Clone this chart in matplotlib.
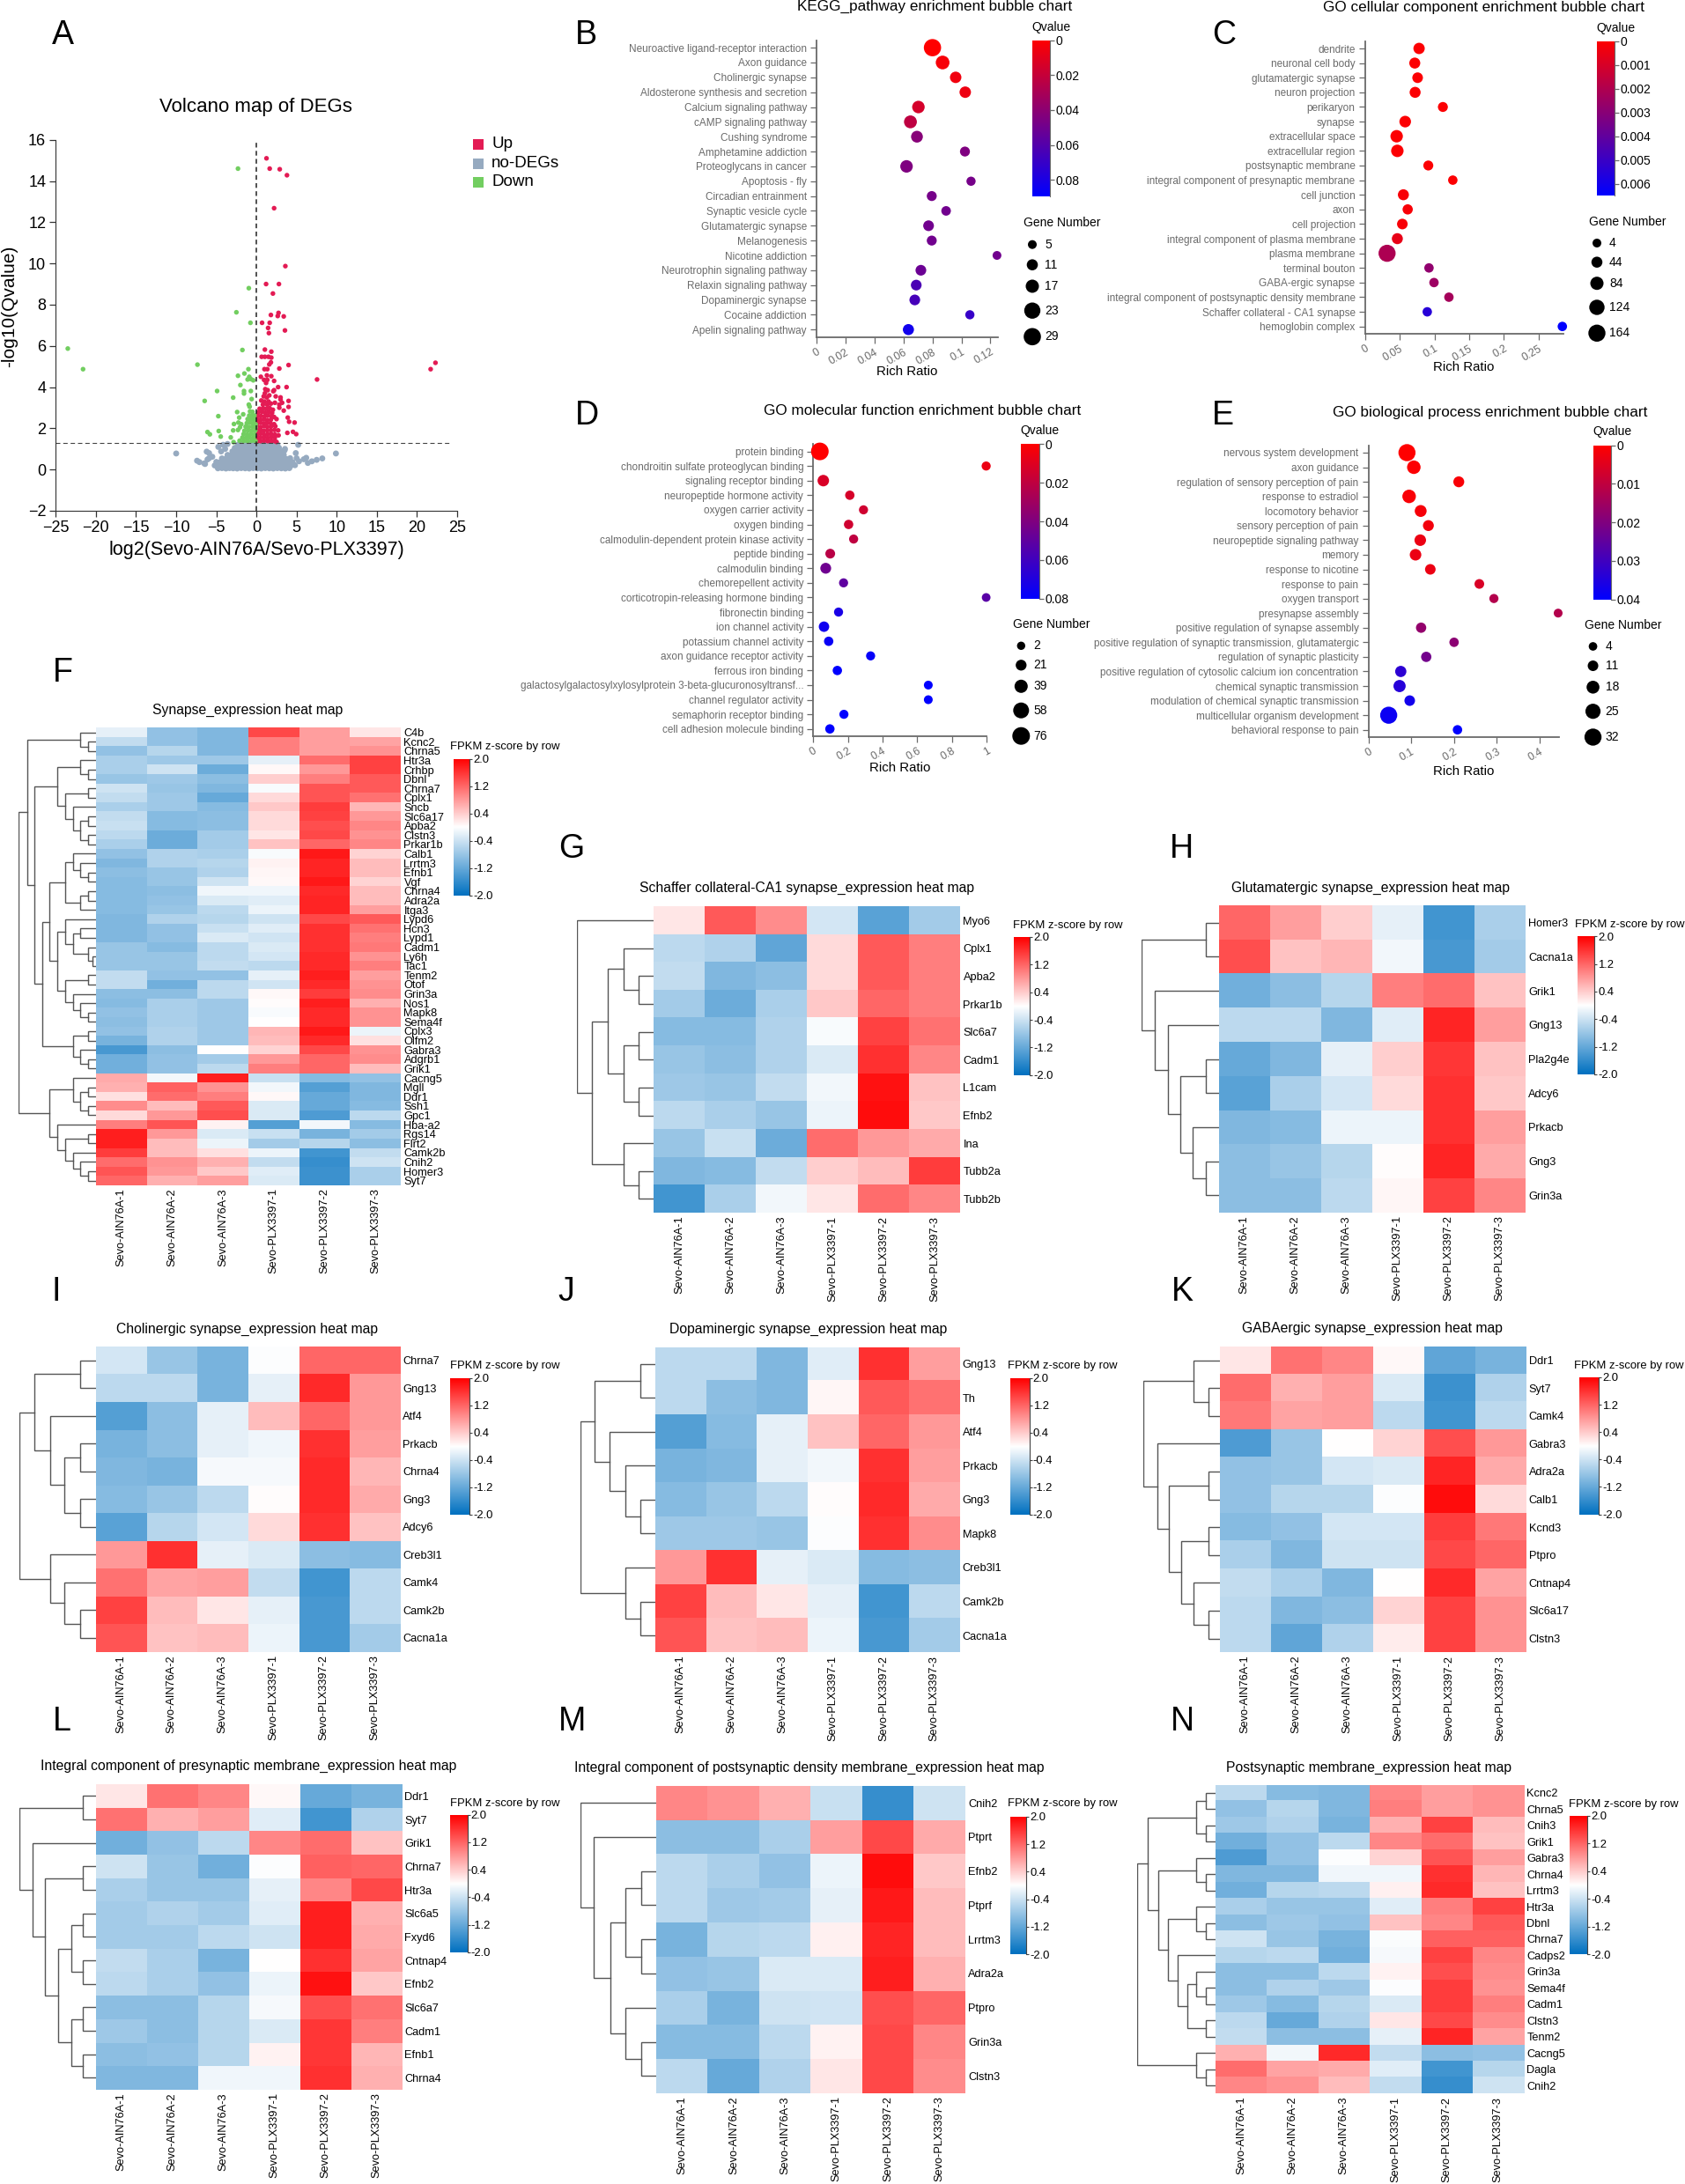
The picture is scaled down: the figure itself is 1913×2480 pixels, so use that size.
import numpy as np
import matplotlib
matplotlib.use('Agg')
import matplotlib.pyplot as plt
from matplotlib.colors import LinearSegmentedColormap, Normalize
from matplotlib.patches import Rectangle

plt.rcParams['font.family'] = ['Liberation Sans', 'DejaVu Sans']

W, H = 1913, 2480
GRAY = '#6a6a6a'
samples = ['Sevo-AIN76A-1', 'Sevo-AIN76A-2', 'Sevo-AIN76A-3',
           'Sevo-PLX3397-1', 'Sevo-PLX3397-2', 'Sevo-PLX3397-3']

# ---- A: volcano
up_pts = [(1.25, 15.1), (1.65, 14.6), (2.9, 14.57), (3.8, 14.28), (2.2, 12.68), (3.6, 9.87), (1.2, 9.0), (2.8, 9.0),
          (2.05, 8.54), (2.75, 7.6), (2.65, 7.45), (3.4, 7.43), (1.8, 7.5), (0.7, 7.12), (1.65, 7.12), (1.45, 6.87),
          (1.55, 6.62), (3.55, 6.75), (1.05, 5.82), (1.85, 5.72), (0.65, 5.47), (1.05, 5.47), (1.5, 5.47), (1.85, 5.43),
          (1.8, 5.2), (1.6, 5.1), (4.0, 5.07), (2.85, 4.9), (1.0, 4.87), (1.35, 4.87), (7.55, 4.37), (21.7, 4.87),
          (22.3, 5.18), (0.55, 4.5), (1.3, 4.57), (1.85, 4.53), (0.95, 4.35), (1.35, 4.35), (2.2, 4.3), (1.2, 4.2),
          (3.75, 4.0), (2.7, 4.0), (2.2, 3.85), (1.1, 3.9), (1.4, 3.85), (2.1, 3.8), (1.05, 3.7), (1.6, 3.6), (0.9, 3.55),
          (1.3, 3.5), (2.4, 3.55), (4.0, 3.33), (4.0, 3.04), (3.0, 3.5), (3.0, 3.4), (3.2, 3.24), (2.3, 3.24), (0.6, 3.35),
          (1.0, 3.3), (1.5, 3.3), (0.8, 3.15), (1.35, 3.15), (1.8, 3.2), (2.85, 3.15), (3.4, 2.86), (2.05, 2.9), (2.85, 3.0),
          (3.9, 2.52), (4.07, 2.32), (4.75, 2.28), (3.85, 1.78), (4.55, 1.83), (4.95, 1.72),
          (0.4, 2.95), (0.85, 2.97), (1.25, 2.95), (1.65, 2.98), (0.25, 2.78), (0.7, 2.8), (1.1, 2.76), (1.55, 2.8), (1.95, 2.75),
          (0.15, 2.6), (0.55, 2.6), (1.0, 2.58), (1.4, 2.62), (1.85, 2.6), (2.2, 2.55), (0.1, 2.42), (0.5, 2.42), (0.95, 2.44),
          (1.35, 2.4), (1.8, 2.42), (2.5, 2.45), (0.1, 2.25), (0.5, 2.27), (0.9, 2.24), (1.3, 2.26), (1.75, 2.25), (2.2, 2.2),
          (0.1, 2.08), (0.5, 2.06), (0.95, 2.1), (1.35, 2.07), (1.8, 2.08), (2.35, 2.1), (0.1, 1.9), (0.5, 1.92), (0.9, 1.88),
          (1.35, 1.9), (1.8, 1.9), (2.25, 1.92), (2.7, 1.9), (0.1, 1.72), (0.5, 1.74), (0.95, 1.7), (1.4, 1.72), (1.85, 1.72),
          (2.3, 1.7), (2.75, 1.66), (0.1, 1.55), (0.5, 1.55), (0.95, 1.56), (1.4, 1.54), (1.85, 1.56), (2.3, 1.55),
          (0.1, 1.38), (0.5, 1.38), (0.95, 1.4), (1.4, 1.38), (1.85, 1.38), (2.3, 1.38), (2.5, 1.34)]
down_pts = [(-2.3, 14.6), (-0.95, 8.8), (-2.5, 7.63), (-0.75, 7.12), (-1.75, 5.8), (-23.5, 5.87), (-21.6, 4.87), (-7.35, 5.09),
            (-1.0, 4.87), (-1.5, 4.66), (-2.3, 4.55), (-0.9, 4.5), (-1.1, 4.37), (-0.7, 4.39), (-0.4, 4.33), (-2.0, 4.1),
            (-1.55, 3.81), (-0.7, 3.81), (-1.55, 3.69), (-4.9, 3.81), (-2.9, 3.49), (-6.45, 3.33), (-0.6, 3.42), (-0.95, 3.15),
            (-0.85, 3.05), (-2.4, 2.79), (-1.65, 2.68), (-4.75, 2.59), (-2.15, 2.52), (-2.8, 2.21), (-2.25, 2.28), (-1.9, 2.2),
            (-2.05, 2.05), (-4.7, 1.87), (-2.9, 1.9), (-2.3, 1.92), (-6.1, 1.82), (-5.8, 1.71), (-4.45, 1.6), (-3.2, 1.56),
            (-2.85, 1.33), (-0.8, 2.82), (-0.5, 2.8), (-0.9, 2.62), (-0.55, 2.6), (-0.25, 2.62), (-1.1, 2.45), (-0.7, 2.44),
            (-0.3, 2.42), (-1.2, 2.25), (-0.8, 2.27), (-0.4, 2.25), (-0.1, 2.2), (-1.35, 2.08), (-0.95, 2.06), (-0.5, 2.08),
            (-0.12, 2.05), (-1.5, 1.88), (-1.05, 1.9), (-0.6, 1.88), (-0.15, 1.9), (-1.6, 1.72), (-1.15, 1.7), (-0.7, 1.72),
            (-0.25, 1.7), (-1.75, 1.55), (-1.3, 1.54), (-0.85, 1.56), (-0.35, 1.55), (-2.1, 1.4), (-1.6, 1.38), (-1.1, 1.38),
            (-0.6, 1.4), (-0.12, 1.38)]
nodeg_pts = [(-10.0, 0.78), (9.9, 0.78), (-6.2, 0.87), (-5.9, 0.8), (-4.75, 1.1), (-4.15, 1.2), (-3.6, 1.24), (-4.4, 0.88), (-3.9, 1.0),
             (5.2, 1.2), (3.5, 0.93), (4.9, 0.8), (3.55, 1.0), (6.2, 0.57), (8.2, 0.54), (7.5, 0.47), (6.9, 0.4), (6.4, 0.32), (5.3, 0.4),
             (5.9, 0.5), (5.0, 0.55), (-7.4, 0.43), (-7.1, 0.36), (-6.5, 0.3), (-6.1, 0.49), (-6.4, 0.27), (-5.9, 0.55), (-5.5, 0.62),
             (-4.8, 0.06), (-4.3, 0.07), (-3.8, 0.05), (-3.35, 0.07), (-2.9, 0.06), (-2.4, 0.05), (-1.9, 0.07), (-1.4, 0.06), (-0.9, 0.05),
             (-0.4, 0.07), (0.1, 0.06), (0.6, 0.05), (1.1, 0.07), (1.6, 0.06), (2.1, 0.05), (2.6, 0.07), (3.1, 0.06), (3.6, 0.05), (4.1, 0.07),
             (-5.2, 0.2), (-4.7, 0.19), (-4.2, 0.21), (-3.7, 0.2), (-3.2, 0.18), (-2.7, 0.21), (-2.2, 0.2), (-1.7, 0.19), (-1.2, 0.21),
             (-0.7, 0.2), (-0.2, 0.18), (0.3, 0.21), (0.8, 0.2), (1.3, 0.19), (1.8, 0.21), (2.3, 0.2), (2.8, 0.18), (3.3, 0.21), (3.8, 0.2),
             (4.3, 0.19), (4.8, 0.21), (-5.0, 0.37), (-4.5, 0.36), (-4.0, 0.38), (-3.5, 0.37), (-3.0, 0.35), (-2.5, 0.38), (-2.0, 0.37),
             (-1.5, 0.36), (-1.0, 0.38), (-0.5, 0.37), (0.0, 0.35), (0.5, 0.38), (1.0, 0.37), (1.5, 0.36), (2.0, 0.38), (2.5, 0.37),
             (3.0, 0.35), (3.5, 0.38), (4.0, 0.37), (4.5, 0.36), (-4.3, 0.54), (-3.8, 0.53), (-3.3, 0.55), (-2.8, 0.54), (-2.3, 0.52),
             (-1.8, 0.55), (-1.3, 0.54), (-0.8, 0.53), (-0.3, 0.55), (0.2, 0.54), (0.7, 0.52), (1.2, 0.55), (1.7, 0.54), (2.2, 0.53),
             (2.7, 0.55), (3.2, 0.54), (3.7, 0.52), (4.2, 0.55), (-3.6, 0.71), (-3.1, 0.7), (-2.6, 0.72), (-2.1, 0.71), (-1.6, 0.69),
             (-1.1, 0.72), (-0.6, 0.71), (-0.1, 0.7), (0.4, 0.72), (0.9, 0.71), (1.4, 0.69), (1.9, 0.72), (2.4, 0.71), (2.9, 0.7), (3.4, 0.72),
             (-3.0, 0.88), (-2.5, 0.87), (-2.0, 0.89), (-1.5, 0.88), (-1.0, 0.86), (-0.5, 0.89), (0.0, 0.88), (0.5, 0.87), (1.0, 0.89),
             (1.5, 0.88), (2.0, 0.86), (2.5, 0.89), (3.0, 0.88), (-2.7, 1.05), (-2.2, 1.04), (-1.7, 1.06), (-1.2, 1.05), (-0.7, 1.03),
             (-0.2, 1.06), (0.3, 1.05), (0.8, 1.04), (1.3, 1.06), (1.8, 1.05), (2.3, 1.03), (2.8, 1.06), (-2.3, 1.2), (-1.8, 1.19),
             (-1.3, 1.21), (-0.8, 1.2), (-0.3, 1.18), (0.2, 1.21), (0.7, 1.2), (1.2, 1.19), (1.7, 1.21), (2.2, 1.2), (2.6, 1.22),
             (-1.7, 1.27), (-1.1, 1.28), (-0.5, 1.27), (0.1, 1.28), (0.7, 1.27), (1.3, 1.28), (1.9, 1.27)]

# ---- B-E: bubble charts
kegg_terms = ['Neuroactive ligand-receptor interaction', 'Axon guidance', 'Cholinergic synapse',
              'Aldosterone synthesis and secretion', 'Calcium signaling pathway', 'cAMP signaling pathway',
              'Cushing syndrome', 'Amphetamine addiction', 'Proteoglycans in cancer', 'Apoptosis - fly',
              'Circadian entrainment', 'Synaptic vesicle cycle', 'Glutamatergic synapse', 'Melanogenesis',
              'Nicotine addiction', 'Neurotrophin signaling pathway', 'Relaxin signaling pathway',
              'Dopaminergic synapse', 'Cocaine addiction', 'Apelin signaling pathway']
kegg_ratio = [.080, .087, .096, .1026, .0703, .0648, .0693, .1024, .0621, .1066, .0795, .0894, .0773, .0795, .1245,
              .072, .0688, .0678, .1058, .0634]
kegg_q = [0, .003, .005, .006, .015, .023, .042, .045, .045, .048, .048, .05, .05, .05, .05, .052, .063, .065, .07, .083]
kegg_genes = [31, 18, 12, 12, 15, 16, 13, 8, 15, 6, 8, 7, 10, 8, 5, 10, 10, 10, 6, 11]

cc_terms = ['dendrite', 'neuronal cell body', 'glutamatergic synapse', 'neuron projection', 'perikaryon', 'synapse',
            'extracellular space', 'extracellular region', 'postsynaptic membrane',
            'integral component of presynaptic membrane', 'cell junction', 'axon', 'cell projection',
            'integral component of plasma membrane', 'plasma membrane', 'terminal bouton', 'GABA-ergic synapse',
            'integral component of postsynaptic density membrane', 'Schaffer collateral - CA1 synapse',
            'hemoglobin complex']
cc_ratio = [.0779, .0717, .0758, .0722, .1122, .0579, .0456, .0466, .0912, .1265, .0553, .0615, .0538, .0466, .0318,
            .0922, .0994, .1209, .0897, .2843]
cc_q = [.0001, .0001, .0001, .0001, .0001, .0001, .0001, .0001, .0001, .0001, .0002, .0002, .0002, .0006, .0021,
        .0028, .0025, .0023, .0055, .0065]
cc_genes = [50, 44, 37, 44, 25, 55, 70, 70, 25, 15, 44, 30, 37, 44, 170, 15, 15, 15, 15, 15]

mf_terms = ['protein binding', 'chondroitin sulfate proteoglycan binding', 'signaling receptor binding',
            'neuropeptide hormone activity', 'oxygen carrier activity', 'oxygen binding',
            'calmodulin-dependent protein kinase activity', 'peptide binding', 'calmodulin binding',
            'chemorepellent activity', 'corticotropin-releasing hormone binding', 'fibronectin binding',
            'ion channel activity', 'potassium channel activity', 'axon guidance receptor activity',
            'ferrous iron binding', 'galactosylgalactosylxylosylprotein 3-beta-glucuronosyltransf...',
            'channel regulator activity', 'semaphorin receptor binding', 'cell adhesion molecule binding']
mf_ratio = [.038, .998, .058, .211, .29, .204, .233, .098, .072, .175, .998, .146, .062, .089, .331, .139, .664, .664,
            .177, .096]
mf_q = [0, .006, .012, .013, .015, .015, .02, .022, .045, .05, .052, .072, .075, .077, .078, .08, .08, .08, .08, .08]
mf_genes = [76, 8, 26, 10, 8, 10, 8, 13, 21, 8, 5, 8, 18, 10, 8, 10, 6, 6, 8, 10]

bp_terms = ['nervous system development', 'axon guidance', 'regulation of sensory perception of pain',
            'response to estradiol', 'locomotory behavior', 'sensory perception of pain',
            'neuropeptide signaling pathway', 'memory', 'response to nicotine', 'response to pain', 'oxygen transport',
            'presynapse assembly', 'positive regulation of synapse assembly',
            'positive regulation of synaptic transmission, glutamatergic', 'regulation of synaptic plasticity',
            'positive regulation of cytosolic calcium ion concentration', 'chemical synaptic transmission',
            'modulation of chemical synaptic transmission', 'multicellular organism development',
            'behavioral response to pain']
bp_ratio = [.09, .106, .211, .095, .122, .14, .121, .11, .1445, .259, .293, .443, .123, .2, .135, .0755, .0727, .0964,
            .0473, .208]
bp_q = [0, .0005, .001, .001, .0015, .002, .003, .003, .003, .006, .012, .012, .017, .018, .022, .033, .034, .037, .038, .04]
bp_genes = [32, 20, 12, 20, 15, 12, 14, 14, 11, 8, 6, 5, 10, 7, 10, 13, 16, 11, 32, 7]

# ---- F-N: heat maps
syn_genes = ['C4b', 'Kcnc2', 'Chrna5', 'Htr3a', 'Crhbp', 'Dbnl', 'Chrna7', 'Cplx1', 'Sncb', 'Slc6a17', 'Apba2', 'Clstn3',
             'Prkar1b', 'Calb1', 'Lrrtm3', 'Efnb1', 'Vgf', 'Chrna4', 'Adra2a', 'Itga3', 'Lypd6', 'Hcn3', 'Lypd1', 'Cadm1',
             'Ly6h', 'Tac1', 'Tenm2', 'Otof', 'Grin3a', 'Nos1', 'Mapk8', 'Sema4f', 'Cplx3', 'Olfm2', 'Gabra3', 'Adgrb1',
             'Grik1', 'Cacng5', 'Mgll', 'Ddr1', 'Ssh1', 'Gpc1', 'Hba-a2', 'Rgs14', 'Flrt2', 'Camk2b', 'Cnih2', 'Homer3', 'Syt7']
syn_vals = [[-.2, -.9, -1.05, 1.5, .8, .2], [-.5, -.9, -1.05, 1.05, .8, .75], [-.9, -.6, -1.05, 1.05, .8, .9],
            [-.7, -.8, -.8, -.2, 1.2, 1.55], [-.7, -.4, -1.2, .05, .85, 1.55], [-.85, -.8, -.95, .4, 1.05, 1.35],
            [-.4, -.85, -1.05, -.05, 1.4, 1.35], [-.5, -.8, -1.25, .3, 1.4, 1.15], [-.7, -.8, -1, .45, 1.6, .6],
            [-.5, -1, -.95, .3, 1.55, .85], [-.45, -1, -.95, .3, 1.45, 1.0], [-.55, -1.2, -.75, .2, 1.5, .9],
            [-.7, -1.2, -.75, .5, 1.25, 1], [-.9, -.65, -.7, -.05, 1.9, .35], [-1.05, -.65, -.6, .1, 1.8, .55],
            [-.95, -.85, -.65, .08, 1.8, .55], [-1, -.85, -.4, .05, 1.9, .35], [-1, -.95, -.12, -.12, 1.75, .55],
            [-1, -.9, -.3, -.25, 1.8, .55], [-1, -.85, -.55, -.15, 1.8, .8], [-1.05, -.65, -.6, -.4, 1.5, 1.35],
            [-1.05, -.9, -.45, -.25, 1.7, 1.15], [-1.05, -.9, -.3, -.38, 1.7, 1.05], [-.85, -1, -.55, -.3, 1.7, 1.1],
            [-.85, -.85, -.55, -.35, 1.75, .9], [-.85, -.85, -.5, -.55, 1.75, 1.05], [-.5, -.9, -.9, -.2, 1.85, .8],
            [-.5, -1.15, -.55, -.38, 1.75, .9], [-.95, -.95, -.55, .06, 1.6, .95], [-1, -.7, -.8, .03, 1.85, .65],
            [-.9, -.7, -.8, -.05, 1.75, .9], [-.95, -.7, -.8, 0, 1.75, .9], [-.9, -.65, -.8, .6, 1.9, -.15],
            [-1.1, -.65, -.8, .55, 1.75, .25], [-1.5, -.95, 0, .35, 1.5, .9], [-1.15, -.9, -.75, .85, 1.25, .95],
            [-1.15, -.9, -.55, 1.05, 1.25, .55], [.7, -.1, 1.85, -.45, -1, -.9], [.65, 1.3, .9, -.1, -1.4, -1.05],
            [.25, 1.2, 1.05, .06, -1.25, -1.05], [.95, .55, 1.35, -.3, -1.25, -1], [.3, .85, 1.45, -.3, -1.45, -.55],
            [1.05, 1.4, .1, -1.4, -.1, -1], [1.85, .85, -.3, -.45, -1.1, -.75], [1.85, .55, -.15, -.75, -.6, -.95],
            [1.6, .55, .25, -.15, -1.55, -.5], [1.2, .9, .65, -.5, -1.65, -.4], [1.4, .85, .45, -.25, -1.6, -.7],
            [1.25, .65, .8, -.3, -1.6, -.7]]
syn_tree = [1.0,
            [.89, [.21, 0, [.10, 0, 0]],
             [.79,
              [.50, [.21, 0, [.10, 0, 0]],
               [.40, [.10, 0, 0], [.30, 0, [.21, [.10, 0, 0], [.10, 0, 0]]]]],
              [.69,
               [.60,
                [.40, [.30, 0, [.21, 0, [.10, 0, 0]]], [.21, [.10, 0, 0], 0]],
                [.50,
                 [.40, 0, [.30, [.21, 0, 0], [.10, 0, [.05, 0, 0]]]],
                 [.40, [.10, 0, 0], [.30, 0, [.21, 0, [.10, 0, 0]]]]]],
               [.30, [.10, 0, 0], [.21, 0, [.10, 0, 0]]]]]],
            [.60, [.30, 0, [.21, [.10, 0, 0], [.10, 0, 0]]],
             [.50, 0, [.40, [.10, 0, 0], [.30, 0, [.21, 0, [.10, 0, 0]]]]]]]

sch_genes = ['Myo6', 'Cplx1', 'Apba2', 'Prkar1b', 'Slc6a7', 'Cadm1', 'L1cam', 'Efnb2', 'Ina', 'Tubb2a', 'Tubb2b']
sch_vals = [[.2, 1.35, .95, -.35, -1.35, -.75], [-.55, -.65, -1.3, .3, 1.35, 1.05], [-.5, -1.05, -.95, .3, 1.35, 1.05],
            [-.75, -1.2, -.7, .45, 1.25, 1.05], [-1.0, -1.0, -.65, -.05, 1.55, 1.15], [-.85, -.95, -.65, -.3, 1.7, 1.0],
            [-.8, -.85, -.5, -.1, 1.95, .5], [-.55, -.7, -.85, -.15, 2, .45], [-.85, -.45, -1.2, 1.2, .85, .7],
            [-1.05, -1.0, -.5, .4, .55, 1.6], [-1.55, -.7, -.1, .2, 1.2, 1.0]]
sch_tree = [1.0, 0,
            [.8,
             [.6, [.39, 0, [.19, 0, 0]], [.39, [.19, 0, 0], [.19, 0, 0]]],
             [.39, 0, [.19, 0, 0]]]]

glu_genes = ['Homer3', 'Cacna1a', 'Grik1', 'Gng13', 'Pla2g4e', 'Adcy6', 'Prkacb', 'Gng3', 'Grin3a']
glu_vals = [[1.25, .8, .4, -.2, -1.55, -.7], [1.45, .5, .6, -.1, -1.5, -.75], [-1.15, -.95, -.6, 1.05, 1.2, .5],
            [-.55, -.55, -1.05, -.25, 1.8, .8], [-1.25, -1.05, -.2, .4, 1.65, .5], [-1.35, -.7, -.35, .3, 1.7, .45],
            [-1.05, -1.0, -.15, -.15, 1.7, .8], [-.95, -.85, -.6, .02, 1.8, .7], [-.95, -.95, -.55, .08, 1.55, 1]]
glu_tree = [1.0, [.17, 0, 0],
            [.83, 0, [.66, 0, [.5, [.17, 0, 0], [.34, 0, [.17, 0, 0]]]]]]

cho_genes = ['Chrna7', 'Gng13', 'Atf4', 'Prkacb', 'Chrna4', 'Gng3', 'Adcy6', 'Creb3l1', 'Camk4', 'Camk2b', 'Cacna1a']
cho_vals = [[-.35, -.85, -1.1, -.03, 1.25, 1.25], [-.55, -.55, -1.1, -.2, 1.75, .85], [-1.4, -.95, -.2, .55, 1.25, .85],
            [-1.1, -.95, -.2, -.12, 1.7, .8], [-1.05, -1.1, -.08, -.08, 1.75, .6], [-1.0, -.85, -.55, .02, 1.75, .7],
            [-1.35, -.6, -.35, .3, 1.7, .5], [.85, 1.7, -.2, -.3, -.95, -1], [1.15, .75, .8, -.5, -1.55, -.55],
            [1.55, .55, .2, -.2, -1.5, -.55], [1.4, .5, .55, -.15, -1.5, -.75]]
cho_tree = [1.0,
            [.8, [.2, 0, 0], [.6, 0, [.41, [.2, 0, 0], [.2, 0, 0]]]],
            [.6, 0, [.41, 0, [.2, 0, 0]]]]

dop_genes = ['Gng13', 'Th', 'Atf4', 'Prkacb', 'Gng3', 'Mapk8', 'Creb3l1', 'Camk2b', 'Cacna1a']
dop_vals = [[-.55, -.55, -1.05, -.25, 1.7, .8], [-.55, -.95, -1.05, .08, 1.35, 1.15], [-1.4, -1, -.2, .5, 1.25, .85],
            [-1.1, -1.05, -.2, -.1, 1.7, .8], [-1, -.85, -.55, .02, 1.75, .7], [-.8, -.8, -.85, -.03, 1.7, .95],
            [.85, 1.7, -.2, -.3, -1, -.95], [1.55, .55, .2, -.2, -1.55, -.55], [1.4, .5, .55, -.15, -1.5, -.75]]
dop_tree = [1.0,
            [.81, [.2, 0, 0], [.61, 0, [.4, 0, [.2, 0, 0]]]],
            [.4, 0, [.2, 0, 0]]]

gab_genes = ['Ddr1', 'Syt7', 'Camk4', 'Gabra3', 'Adra2a', 'Calb1', 'Kcnd3', 'Ptpro', 'Cntnap4', 'Slc6a17', 'Clstn3']
gab_vals = [[.2, 1.15, 1, .05, -1.3, -1.1], [1.2, .65, .8, -.3, -1.6, -.65], [1.1, .75, .8, -.55, -1.55, -.55],
            [-1.45, -.85, 0, .35, 1.45, .85], [-.9, -.85, -.35, -.3, 1.8, .7], [-.9, -.6, -.6, -.03, 2, .3],
            [-1, -.9, -.35, -.35, 1.6, 1.1], [-.7, -1.05, -.4, -.4, 1.5, 1.25], [-.5, -.7, -1.05, 0, 1.75, .75],
            [-.55, -1.05, -.95, .35, 1.55, .9], [-.55, -1.3, -.65, .15, 1.55, .9]]
gab_tree = [1.0, [.34, 0, [.15, 0, 0]],
            [.82, 0, [.66, [.15, 0, 0], [.5, [.15, 0, 0], [.34, 0, [.15, 0, 0]]]]]]

pre_genes = ['Ddr1', 'Syt7', 'Grik1', 'Chrna7', 'Htr3a', 'Slc6a5', 'Fxyd6', 'Cntnap4', 'Efnb2', 'Slc6a7', 'Cadm1', 'Efnb1', 'Chrna4']
pre_vals = [[.2, 1.15, 1, .05, -1.25, -1.1], [1.15, .65, .8, -.25, -1.55, -.65], [-1.15, -.9, -.55, 1, 1.2, .5],
            [-.4, -.85, -1.15, -.03, 1.3, 1.25], [-.7, -.85, -.85, -.2, 1, 1.5], [-.75, -.65, -.75, -.25, 1.85, .65],
            [-.75, -.75, -.55, -.4, 1.85, .7], [-.5, -.7, -1.1, 0, 1.7, .75], [-.55, -.7, -.9, -.15, 1.95, .45],
            [-.95, -.95, -.6, -.08, 1.45, 1.15], [-.8, -.95, -.6, -.3, 1.65, 1.05], [-.95, -.9, -.6, .1, 1.65, .6],
            [-1.05, -1.05, -.12, -.12, 1.7, .65]]
pre_tree = [1.0, [.17, 0, 0],
            [.83, 0,
             [.66, [.17, 0, 0],
              [.49, [.32, [.17, 0, 0], [.17, 0, 0]], [.32, [.17, 0, 0], [.17, 0, 0]]]]]]

psd_genes = ['Cnih2', 'Ptprt', 'Efnb2', 'Ptprf', 'Lrrtm3', 'Adra2a', 'Ptpro', 'Grin3a', 'Clstn3']
psd_vals = [[1, .9, .65, -.45, -1.65, -.4], [-.95, -.95, -.7, .8, 1.5, .7], [-.55, -.7, -.9, -.15, 2, .45],
            [-.55, -.8, -.75, -.2, 1.9, .55], [-1.1, -.6, -.55, .12, 1.8, .55], [-.9, -.85, -.3, -.3, 1.85, .65],
            [-.7, -1.1, -.4, -.38, 1.45, 1.25], [-1, -1, -.55, .1, 1.5, 1], [-.55, -1.25, -.65, .2, 1.5, .95]]
psd_tree = [1.0, 0,
            [.82, 0,
             [.61, [.41, [.2, 0, 0], [.2, 0, 0]], [.41, 0, [.2, 0, 0]]]]]

psm_genes = ['Kcnc2', 'Chrna5', 'Cnih3', 'Grik1', 'Gabra3', 'Chrna4', 'Lrrtm3', 'Htr3a', 'Dbnl', 'Chrna7', 'Cadps2', 'Grin3a',
             'Sema4f', 'Cadm1', 'Clstn3', 'Tenm2', 'Cacng5', 'Dagla', 'Cnih2']
psm_vals = [[-.55, -1, -1.05, 1, .8, .9], [-.9, -.6, -1.05, 1.05, .8, .9], [-.8, -.65, -1.1, .65, 1.55, .55],
            [-1.15, -.9, -.55, 1, 1.2, .5], [-1.45, -.9, -.02, .35, 1.4, .8], [-1.05, -1.05, -.12, -.12, 1.7, .6],
            [-1.15, -.6, -.55, .12, 1.75, .5], [-.7, -.85, -.85, -.25, 1.05, 1.55], [-.95, -.8, -.9, .5, 1, 1.35],
            [-.4, -.85, -1.1, -.04, 1.3, 1.3], [-.6, -.55, -1.15, -.08, 1.55, 1], [-.95, -.95, -.55, .1, 1.45, .95],
            [-.95, -.65, -.8, -.02, 1.6, .9], [-.8, -1, -.6, -.3, 1.6, 1.05], [-.55, -1.25, -.65, .2, 1.5, .95],
            [-.5, -.95, -.95, -.2, 1.8, .75], [.65, -.1, 1.75, -.5, -.95, -.9], [1.2, .75, .7, -.25, -1.55, -.6],
            [1, .9, .55, -.5, -1.65, -.4]]
psm_tree = [1.0,
            [.86,
             [.25, [.12, 0, 0], [.12, 0, 0]],
             [.73,
              [.25, 0, [.12, 0, 0]],
              [.6, [.25, 0, [.12, 0, 0]],
               [.48, 0, [.36, [.25, 0, [.12, 0, 0]], [.12, 0, 0]]]]]],
            [.25, 0, [.12, 0, 0]]]

hm_ticks = [2.0, 1.2, 0.4, -0.4, -1.2, -2.0]

q_cmap = LinearSegmentedColormap.from_list('q', ['#ff0000', '#0000ff'])
hm_cmap = LinearSegmentedColormap.from_list('hm', ['#0070c0', '#ffffff', '#ff0000'])

fig = plt.figure(figsize=(W / 100, H / 100), dpi=100)


def px_axes(x0, y0, x1, y1):
    return fig.add_axes([x0 / W, 1 - y1 / H, (x1 - x0) / W, (y1 - y0) / H])


page = px_axes(0, 0, W, H)
page.set_xlim(0, W)
page.set_ylim(H, 0)
page.axis('off')


def letter(s, x, y):
    page.text(x, y, s, fontsize=27, ha='center', va='center', color='black')


def circle_s(d_px):
    # scatter area in pt^2 for a circle that is d_px pixels across
    return (np.asarray(d_px, dtype=float) * 0.72) ** 2


def bubble_chart(title, terms, ratio, q, genes, box, xticks, xlabels, xmax, qend, qticks, qlabels,
                 bar, title_xy, qtitle_xy, gene_xy, size_vals, size_d, size_y, xlabel_xy):
    x0, y0, x1, y1 = box
    n = len(terms)
    ax = px_axes(x0, y0, x1, y1)
    norm = Normalize(0, qend)
    ax.scatter(ratio, range(n), s=circle_s(np.interp(genes, size_vals, size_d)), c=q, cmap=q_cmap, norm=norm,
               edgecolors='none', clip_on=False, zorder=3)
    ax.set_xlim(0, xmax)
    ax.set_ylim(n - .5, -.5)
    ax.set_yticks(range(n))
    ax.set_yticklabels(terms, fontsize=8.5, color=GRAY)
    ax.set_xticks(xticks)
    ax.set_xticklabels(xlabels, fontsize=8.7, color=GRAY, rotation=30, ha='right', rotation_mode='anchor')
    ax.tick_params(axis='both', length=5, width=0.9, color=GRAY, pad=3)
    for s in ['top', 'right']:
        ax.spines[s].set_visible(False)
    for s in ['left', 'bottom']:
        ax.spines[s].set_color(GRAY)
        ax.spines[s].set_linewidth(1.3)
    page.text(title_xy[0], title_xy[1], title, fontsize=12.3, ha='center', va='center')
    page.text(xlabel_xy[0], xlabel_xy[1], 'Rich Ratio', fontsize=10.8, ha='center', va='center')
    # colour bar
    cb = px_axes(*bar)
    cb.imshow(np.linspace(0, 1, 256)[:, None], extent=[0, 1, qend, 0], aspect='auto', cmap=q_cmap)
    cb.set_xticks([])
    cb.yaxis.tick_right()
    cb.set_yticks(qticks)
    cb.set_yticklabels(qlabels, fontsize=10)
    cb.tick_params(axis='y', length=3.5, width=0.9, color=GRAY, pad=1.5)
    for s in ['top', 'left', 'bottom']:
        cb.spines[s].set_visible(False)
    cb.spines['right'].set_color(GRAY)
    page.text(qtitle_xy[0], qtitle_xy[1], 'Qvalue', fontsize=10, ha='center', va='center')
    # gene number legend
    page.text(gene_xy[0], gene_xy[1], 'Gene Number', fontsize=10, ha='left', va='center')
    lx = bar[0] + 0.5 * (bar[2] - bar[0]) - 10
    page.scatter([lx] * len(size_vals), size_y, s=circle_s(size_d), c='black', edgecolors='none')
    for v, yy in zip(size_vals, size_y):
        page.text(lx + 14, yy, str(v), fontsize=10, ha='left', va='center')


def draw_tree(ax, node, counter):
    if node == 0:
        y = counter[0] + .5
        counter[0] += 1
        return y, 0.0
    h, a, b = node
    ya, ha = draw_tree(ax, a, counter)
    yb, hb = draw_tree(ax, b, counter)
    ax.plot([ha, h, h, hb], [ya, ya, yb, yb], color='#555555', lw=1.0, solid_joinstyle='miter')
    return (ya + yb) / 2, h


def heat_map(title, genes, vals, tree, box, dleft, bar, title_xy, legend_xy):
    x0, y0, x1, y1 = box
    n = len(genes)
    ax = px_axes(x0, y0, x1, y1)
    ax.imshow(np.array(vals), aspect='auto', cmap=hm_cmap, vmin=-2.1, vmax=2.1, interpolation='nearest')
    ax.set_xticks(range(6))
    ax.set_xticklabels(samples, rotation=90, fontsize=9.2, ha='center', va='top')
    ax.yaxis.tick_right()
    ax.set_yticks(range(n))
    ax.set_yticklabels(genes, fontsize=9.2)
    ax.tick_params(length=0, pad=2.5)
    for s in ax.spines.values():
        s.set_visible(False)
    d = px_axes(dleft, y0, x0, y1)
    d.set_xlim(1, 0)
    d.set_ylim(n, 0)
    d.axis('off')
    draw_tree(d, tree, [0])
    page.text(title_xy[0], title_xy[1], title, fontsize=11.3, ha='center', va='center')
    page.text(legend_xy[0], legend_xy[1], 'FPKM z-score by row', fontsize=9.4, ha='left', va='center')
    cb = px_axes(*bar)
    cb.imshow(np.linspace(1, 0, 256)[:, None], extent=[0, 1, -2, 2], aspect='auto', cmap=hm_cmap, vmin=0, vmax=1)
    cb.set_xticks([])
    cb.yaxis.tick_right()
    cb.set_yticks(hm_ticks)
    cb.set_yticklabels(['%.1f' % t for t in hm_ticks], fontsize=9.4)
    cb.tick_params(axis='y', length=2.5, width=0.8, color='#444444', pad=0.5)
    for s in ['top', 'left', 'bottom']:
        cb.spines[s].set_visible(False)
    cb.spines['right'].set_color('#444444')


# A
ax = px_axes(63.3, 158.7, 519, 580)
nodeg = np.array(nodeg_pts)
up = np.array(up_pts)
down = np.array(down_pts)
ax.scatter(nodeg[:, 0], nodeg[:, 1], s=circle_s(6.8), c='#96aac0', edgecolors='none')
ax.scatter(up[:, 0], up[:, 1], s=circle_s(5.4), c='#e31b54', edgecolors='none')
ax.scatter(down[:, 0], down[:, 1], s=circle_s(5.4), c='#72ce60', edgecolors='none')
ax.plot([-25, 24.3], [1.3, 1.3], color='#444444', lw=0.8, dashes=(4.5, 3))
ax.plot([0, 0], [-2, 16], color='#222222', lw=1.1, dashes=(3.5, 2.5))
ax.set_xlim(-25, 25)
ax.set_ylim(-2, 16)
ax.set_xticks(range(-25, 26, 5))
ax.set_yticks(range(-2, 17, 2))
ax.tick_params(labelsize=13, length=5, width=0.9, color='#333333', pad=3)
for s in ['top', 'right']:
    ax.spines[s].set_visible(False)
for s in ['left', 'bottom']:
    ax.spines[s].set_color('#333333')
ax.set_xlabel('log2(Sevo-AIN76A/Sevo-PLX3397)', fontsize=15.5, labelpad=4)
page.text(11, 348, '-log10(Qvalue)', fontsize=15, rotation=90, ha='center', va='center')
page.text(290, 121, 'Volcano map of DEGs', fontsize=16, ha='center', va='center')
for name, colr, yy in zip(['Up', 'no-DEGs', 'Down'], ['#e31b54', '#96aac0', '#72ce60'], [164, 185.6, 206.6]):
    page.add_patch(Rectangle((537, yy - 6), 12, 12, color=colr, lw=0))
    page.text(558, yy, name, fontsize=13.5, ha='left', va='center')
letter('A', 71, 40)

# B-E
bubble_chart('KEGG_pathway enrichment bubble chart', kegg_terms, kegg_ratio, kegg_q, kegg_genes,
             (927, 45.7, 1132.7, 382.7), [0, .02, .04, .06, .08, .1, .12], ['0', '0.02', '0.04', '0.06', '0.08', '0.1', '0.12'],
             .125, .0896, [0, .02, .04, .06, .08], ['0', '0.02', '0.04', '0.06', '0.08'],
             (1172, 45.7, 1192, 223.3), (1061, 7), (1193.5, 31), (1162, 253),
             [5, 11, 17, 23, 29], [10, 12.6, 15, 18.4, 19.6], [277.7, 300.7, 325, 352.7, 382.3], (1030, 421.7))
bubble_chart('GO cellular component enrichment bubble chart', cc_terms, cc_ratio, cc_q, cc_genes,
             (1549.7, 46.7, 1775, 379), [0, .05, .1, .15, .2, .25], ['0', '0.05', '0.1', '0.15', '0.2', '0.25'],
             .2859, .00649, [0, .001, .002, .003, .004, .005, .006], ['0', '0.001', '0.002', '0.003', '0.004', '0.005', '0.006'],
             (1813, 46.7, 1833, 222), (1685, 9), (1834, 32), (1803.6, 251.7),
             [4, 44, 84, 124, 164], [10, 12.5, 15, 17.4, 19.4], [276, 297.7, 321.7, 349, 378.3], (1662, 417))
bubble_chart('GO molecular function enrichment bubble chart', mf_terms, mf_ratio, mf_q, mf_genes,
             (923.3, 504.3, 1120, 836), [0, .2, .4, .6, .8, 1], ['0', '0.2', '0.4', '0.6', '0.8', '1'],
             1.0, .08, [0, .02, .04, .06, .08], ['0', '0.02', '0.04', '0.06', '0.08'],
             (1159, 504.3, 1179.6, 679.7), (1047.6, 466.7), (1180, 489.3), (1149.8, 708.7),
             [2, 21, 39, 58, 76], [9.4, 12.3, 15, 18, 20], [733.3, 755.3, 779.3, 806.7, 835.7], (1021.5, 872.3))
bubble_chart('GO biological process enrichment bubble chart', bp_terms, bp_ratio, bp_q, bp_genes,
             (1553.6, 505.7, 1769.7, 837), [0, .1, .2, .3, .4], ['0', '0.1', '0.2', '0.3', '0.4'],
             .4445, .04, [0, .01, .02, .03, .04], ['0', '0.01', '0.02', '0.03', '0.04'],
             (1808.6, 505.7, 1828.5, 680.7), (1691.5, 468), (1830, 490.3), (1799, 710),
             [4, 11, 18, 25, 32], [9.7, 12, 14.6, 17.2, 19.4], [734, 756, 780.3, 807.7, 837], (1661.5, 875.7))
letter('B', 665, 40)
letter('C', 1390, 40)
letter('D', 666, 471.7)
letter('E', 1388, 471.7)

# F-N
heat_map('Synapse_expression heat map', syn_genes, syn_vals, syn_tree, (109, 826.3, 455, 1346), 21,
         (515, 861.7, 533, 1016.9), (281.6, 806), (511, 848))
heat_map('Schaffer collateral-CA1 synapse_expression heat map', sch_genes, sch_vals, sch_tree,
         (742, 1029.3, 1090, 1377.3), 654.6, (1151, 1064, 1169, 1220.7), (916, 1008.7), (1150, 1051))
heat_map('Glutamatergic synapse_expression heat map', glu_genes, glu_vals, glu_tree,
         (1383.6, 1028.3, 1731.6, 1376.7), 1296, (1791, 1063.3, 1810, 1220), (1556, 1008), (1788.5, 1050))
heat_map('Cholinergic synapse_expression heat map', cho_genes, cho_vals, cho_tree,
         (108.6, 1528.8, 453.8, 1875.6), 22, (511, 1564.7, 533, 1719.6), (280.6, 1509.6), (511, 1551))
heat_map('Dopaminergic synapse_expression heat map', dop_genes, dop_vals, dop_tree,
         (744, 1529.5, 1089.4, 1876.3), 658.8, (1146.8, 1564.7, 1168.7, 1719.6), (917.4, 1509.6), (1144, 1551))
heat_map('GABAergic synapse_expression heat map', gab_genes, gab_vals, gab_tree,
         (1384.7, 1528.8, 1732.4, 1876.3), 1298, (1793, 1564, 1815, 1719.6), (1558, 1508.9), (1787, 1551))
heat_map('Integral component of presynaptic membrane_expression heat map', pre_genes, pre_vals, pre_tree,
         (108.6, 2026, 456, 2372.7), 22, (511, 2060.7, 530.7, 2216.7), (281.8, 2005.7), (511, 2047.7))
heat_map('Integral component of postsynaptic density membrane_expression heat map', psd_genes, psd_vals, psd_tree,
         (745.4, 2027.7, 1095.5, 2376.7), 658.8, (1146.8, 2062.7, 1165, 2219.3), (918.6, 2007), (1144, 2047.7))
heat_map('Postsynaptic membrane_expression heat map', psm_genes, psm_vals, psm_tree,
         (1379.8, 2026.7, 1729.9, 2377.3), 1290.7, (1782, 2062, 1802, 2219), (1554, 2007), (1781, 2049))
letter('F', 71, 764)
letter('G', 649, 964)
letter('H', 1341.5, 964)
letter('I', 63.4, 1467)
letter('J', 643, 1467)
letter('K', 1342, 1467)
letter('L', 70.8, 1955)
letter('M', 650, 1955)
letter('N', 1342, 1955)

fig.savefig('out.png', dpi=100)
